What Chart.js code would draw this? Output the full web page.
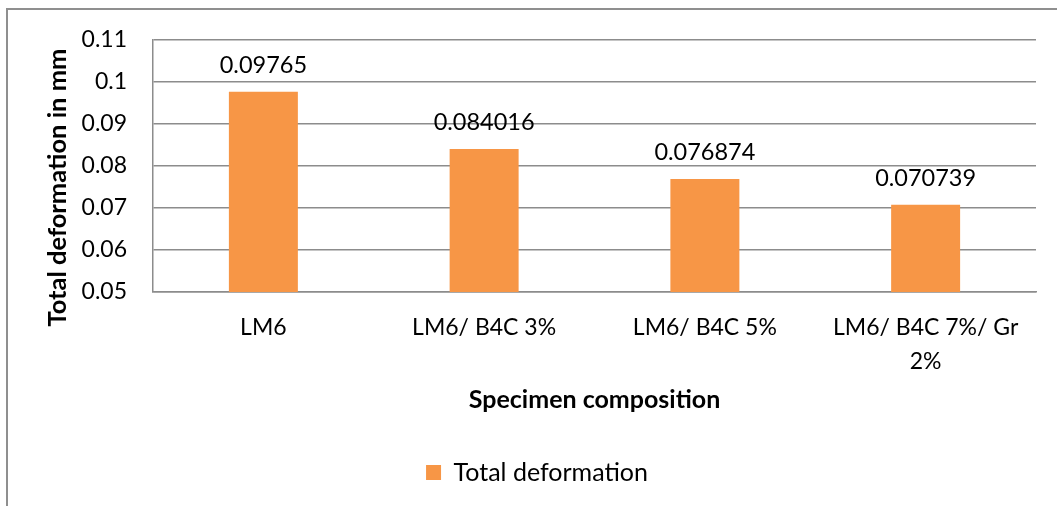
<!DOCTYPE html>
<html>
<head>
<meta charset="utf-8">
<script src="https://cdn.jsdelivr.net/npm/chart.js@4.4.0/dist/chart.umd.min.js"></script>
<style>
  html, body { margin: 0; padding: 0; background: #fff; overflow: hidden; }
  #wrap { position: relative; width: 1057px; height: 506px; }
  #frame { position: absolute; left: 6px; top: 8px; width: 1200px; height: 700px; border: 2px solid #8f8f8f; box-sizing: border-box; pointer-events: none; }
  canvas { position: absolute; left: 0; top: 0; }
</style>
</head>
<body>
<div id="wrap">
  <canvas id="deformChart" width="1057" height="506"></canvas>
  <div id="frame"></div>
</div>
<script>
// Chart data
const categories = ['LM6', 'LM6/ B4C 3%', 'LM6/ B4C 5%', ['LM6/ B4C 7%/ Gr', '2%']];
const deformation = [0.09765, 0.084016, 0.076874, 0.070739];
const yTicks = [0.05, 0.06, 0.07, 0.08, 0.09, 0.1, 0.11];
const seriesName = 'Total deformation';

const FONT = 'Lato';
const gridColor = '#8c8c8c';

// Draws the value above each bar
const valueLabels = {
    id: 'valueLabels',
    afterDatasetsDraw(chart) {
        const ctx = chart.ctx;
        const meta = chart.getDatasetMeta(0);
        ctx.save();
        ctx.font = `23.5px ${FONT}`;
        ctx.fillStyle = '#000';
        ctx.textAlign = 'center';
        ctx.textBaseline = 'alphabetic';
        meta.data.forEach((bar, i) => {
            ctx.fillText(String(deformation[i]), bar.x, bar.y - 19);
        });
        ctx.restore();
    }
};

const ctx = document.getElementById('deformChart').getContext('2d');
const myChart = new Chart(ctx, {
    type: 'bar',
    data: {
        labels: categories,
        datasets: [{
            label: seriesName,
            data: deformation,
            backgroundColor: '#F79646',
            borderWidth: 0,
            categoryPercentage: 0.625,
            barPercentage: 0.5
        }]
    },
    plugins: [valueLabels],
    options: {
        responsive: false,
        animation: false,
        devicePixelRatio: 1,
        layout: {
            padding: { left: 38, right: 21, top: 39, bottom: 11 }
        },
        plugins: {
            tooltip: { enabled: false },
            legend: {
                position: 'bottom',
                labels: {
                    boxWidth: 15,
                    boxHeight: 15,
                    padding: 10,
                    color: '#000',
                    font: { family: FONT, size: 25 }
                }
            }
        },
        scales: {
            x: {
                grid: { display: false, drawTicks: false },
                border: { display: true, color: gridColor, width: 1.5 },
                ticks: {
                    color: '#000',
                    padding: 18,
                    maxRotation: 0,
                    autoSkip: false,
                    font: { family: FONT, size: 23, lineHeight: 1.5 }
                },
                title: {
                    display: true,
                    text: 'Specimen composition',
                    color: '#000',
                    padding: { top: 0, bottom: 35 },
                    font: { family: FONT, size: 25, weight: 'bold', lineHeight: 1.2 }
                },
                afterFit(scale) { scale.height = 158; }
            },
            y: {
                min: 0.05,
                max: 0.11,
                grid: { color: gridColor, lineWidth: 1.5, drawTicks: false },
                border: { display: true, color: gridColor, width: 1.5 },
                afterBuildTicks(scale) {
                    scale.ticks = yTicks.map(v => ({ value: v }));
                },
                ticks: {
                    color: '#000',
                    padding: 26,
                    font: { family: FONT, size: 23 },
                    callback: value => String(Number(value.toFixed(2)))
                },
                title: {
                    display: true,
                    text: 'Total deformation in mm       ',
                    color: '#000',
                    padding: { top: 4, bottom: 4 },
                    font: { family: FONT, size: 25.5, weight: 'bold', lineHeight: 1.2 }
                },
                afterFit(scale) { scale.width = 115; }
            }
        }
    }
});
</script>
</body>
</html>
